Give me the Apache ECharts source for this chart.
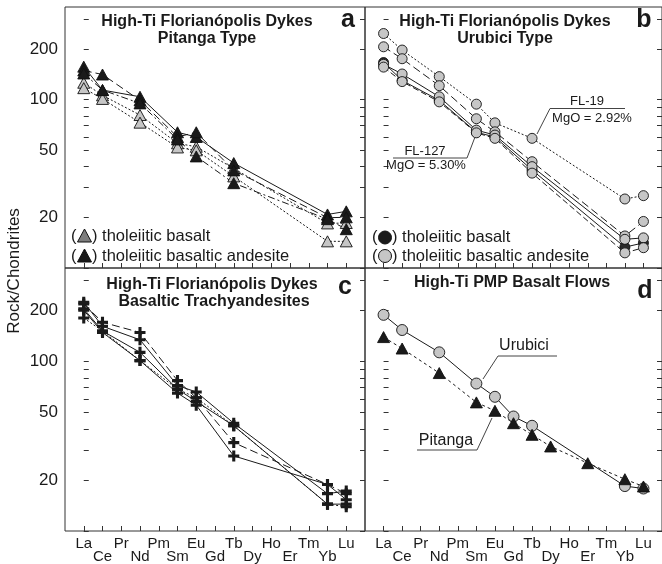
<!DOCTYPE html>
<html>
<head>
<meta charset="UTF-8">
<title>REE patterns</title>
<script src="https://cdn.jsdelivr.net/npm/echarts@6/dist/echarts.min.js"></script>
<style>
  html, body { margin: 0; padding: 0; background: #fff; }
  #chart { width: 662px; height: 564px; }
</style>
</head>
<body>
<div id="chart"></div>
<script>
// element order on the x axis
const elements = ['La', 'Ce', 'Pr', 'Nd', 'Pm', 'Sm', 'Eu', 'Gd', 'Tb', 'Dy', 'Ho', 'Er', 'Tm', 'Yb', 'Lu'];
const yTickValues = [10, 20, 30, 40, 50, 60, 70, 80, 90, 100, 200, 300];
const yLabelValues = [20, 50, 100, 200];

// a: Pitanga type dykes (rock/chondrite)
const pitBlack1 = [157, 114, null, 104, null, 64, 60, null, 42, null, null, null, null, 20.8, 21.7];
const pitBlack2 = [149, 141, null, 99, null, 60, 64, null, 38, null, null, null, null, 19.9, 20.0];
const pitBlack3 = [143, 114, null, 95, null, 58, 46, null, 31.9, null, null, null, null, 19.5, 17.0];
const pitGray1 = [126, 106, null, 81, null, 55, 52.5, null, 39, null, null, null, null, 18.4, 18.5];
const pitGray2 = [117, 101, null, 73, null, 52, 50, null, 35, null, null, null, null, 14.4, 14.4];

// b: Urubici type dykes
const uruFL19 = [247, 197, null, 137, null, 94, 72.8, null, 58.9, null, null, null, null, 25.7, 26.9];
const uruGray1 = [206, 175, null, 121, null, 77, 64.4, null, 42.8, null, null, null, null, 15.5, 18.9];
const uruGray2 = [162, 142, null, 104, null, 65.9, 61.6, null, 40, null, null, null, null, 14.8, 15.1];
const uruBlack = [166, 130, null, 99, null, 64, 60, null, 38.2, null, null, null, null, 13.3, 14.1];
const uruGray3 = [156, 128, null, 97, null, 63.5, 58.9, null, 36.6, null, null, null, null, 12.3, 13.2];

// c: basaltic trachyandesites
const btaA = [218, 170, null, 148, null, 77, 61, null, 33.2, null, null, null, null, 18.8, 16.6];
const btaB = [223, 161, null, 134, null, 72, 66, null, 43.2, null, null, null, null, 16.6, 17.2];
const btaC = [204, 151, null, 113, null, 68.6, 58, null, 41.7, null, null, null, null, 14.4, 14.4];
const btaD = [200, 148, null, 101, null, 65, 55.2, null, 27.7, null, null, null, null, 18.8, 15.3];
const btaE = [180, 151, null, 101, null, 68.6, 61, null, 41.7, null, null, null, null, 14.4, 13.9];

// d: PMP basalt flows
const pmpUrubici = [188, 153, null, 113, null, 74, 61.8, 47.3, 41.7, null, null, null, null, 18.4, 17.8];
const pmpPitanga = [139, 119, null, 85.3, null, 57.3, 51.1, 43.2, 36.9, 31.5, null, 25.1, null, 20.2, 18.3];

const FONT = 'Liberation Sans, Arial, sans-serif';
const INK = '#1a1a1a';
const LIGHT = '#c6c6c6';
const PLUS = 'path://M3.6,0H6.4V3.6H10V6.4H6.4V10H3.6V6.4H0V3.6H3.6Z';

const DOT = [2, 2];
const DASH = [8, 4];
const DASHDOT = [7, 3, 2, 3];

const panels = [
  { grid: 0, symbol: 'triangle', size: [12, 11], samples: [
    { d: pitGray1, fill: LIGHT, line: DOT },
    { d: pitGray2, fill: LIGHT, line: DOT },
    { d: pitBlack1, fill: INK, line: 'solid' },
    { d: pitBlack2, fill: INK, line: DASH },
    { d: pitBlack3, fill: INK, line: DASHDOT }
  ]},
  { grid: 1, symbol: 'circle', size: 10, samples: [
    { d: uruFL19, fill: LIGHT, line: DOT },
    { d: uruGray1, fill: LIGHT, line: DASH },
    { d: uruBlack, fill: '#2a2a2a', line: 'solid' },
    { d: uruGray2, fill: LIGHT, line: 'solid' },
    { d: uruGray3, fill: LIGHT, line: [6, 3] }
  ]},
  { grid: 2, symbol: PLUS, size: 11, samples: [
    { d: btaA, fill: INK, line: DASH },
    { d: btaB, fill: INK, line: 'solid' },
    { d: btaC, fill: INK, line: 'solid' },
    { d: btaD, fill: INK, line: 'solid' },
    { d: btaE, fill: INK, line: DOT }
  ]},
  { grid: 3, symbol: null, samples: [
    { d: pmpUrubici, fill: LIGHT, line: 'solid', symbol: 'circle', size: 11 },
    { d: pmpPitanga, fill: INK, line: [3, 3], symbol: 'triangle', size: [12, 11] }
  ]}
];

function pairs(arr) {
  return arr.map((v, i) => v == null ? null : [i, v]).filter(p => p);
}

const grids = [
  { left: 65, top: 7, width: 300, height: 261 },
  { left: 365, top: 7, width: 300, height: 261 },
  { left: 65, top: 268, width: 300, height: 264 },
  { left: 365, top: 268, width: 300, height: 264 }
].map(g => Object.assign(g, { show: true, borderColor: '#333', borderWidth: 1, backgroundColor: 'transparent' }));

const xIdx = elements.map((e, i) => i);
const xAxes = grids.map((g, i) => ({
  type: 'value', gridIndex: i, min: -1, max: 15,
  axisLine: { show: false }, splitLine: { show: false },
  axisTick: { show: true, inside: true, length: 5, customValues: xIdx, lineStyle: { color: '#333' } },
  axisLabel: {
    show: i >= 2, customValues: xIdx, margin: 6,
    color: INK, fontFamily: FONT, fontSize: 15, lineHeight: 13,
    formatter: v => (v % 2 === 1 ? '\n' : '') + (elements[v] || '')
  }
}));

const yAxes = [];
grids.forEach((g, i) => {
  ['left', 'right'].forEach(pos => {
    yAxes.push({
      type: 'log', logBase: 10, gridIndex: i, position: pos, min: 10, max: 355,
      axisLine: { show: false }, splitLine: { show: false }, minorTick: { show: false },
      axisTick: { show: true, inside: true, length: 5, customValues: yTickValues, lineStyle: { color: '#333' } },
      axisLabel: {
        show: pos === 'left' && i % 2 === 0, customValues: yLabelValues, margin: 7,
        color: INK, fontFamily: FONT, fontSize: 17
      }
    });
  });
});

const series = [];
panels.forEach(p => {
  p.samples.forEach(s => {
    const data = pairs(s.d);
    series.push({
      type: 'line', xAxisIndex: p.grid, yAxisIndex: p.grid * 2, data: data,
      symbol: 'none', z: 2, silent: true,
      lineStyle: { color: INK, width: 1, type: s.line }
    });
    series.push({
      type: 'scatter', xAxisIndex: p.grid, yAxisIndex: p.grid * 2, data: data,
      symbol: s.symbol || p.symbol, symbolSize: s.size || p.size, z: 3,
      itemStyle: {
        color: s.fill,
        borderColor: p.grid === 2 ? INK : '#111',
        borderWidth: p.grid === 2 ? 0 : 0.9,
        opacity: 1
      }
    });
  });
});

function txt(x, y, text, size, opts) {
  return Object.assign({
    type: 'text', x: x, y: y, z: 10,
    style: Object.assign({
      text: text, fill: INK, font: (opts && opts.bold ? 'bold ' : '') + size + 'px ' + FONT,
      textAlign: 'center', textVerticalAlign: 'middle'
    }, opts && opts.style)
  }, opts && opts.el);
}
function leader(points) {
  return { type: 'polyline', z: 10, shape: { points: points }, style: { stroke: '#444', lineWidth: 1, fill: null } };
}

const graphics = [
  // titles and panel letters
  txt(207, 22, 'High-Ti Florianópolis Dykes', 16, { bold: true }),
  txt(207, 39, 'Pitanga Type', 16, { bold: true }),
  txt(505, 22, 'High-Ti Florianópolis Dykes', 16, { bold: true }),
  txt(505, 39, 'Urubici Type', 16, { bold: true }),
  txt(212, 285, 'High-Ti Florianópolis Dykes', 16, { bold: true }),
  txt(214, 302, 'Basaltic Trachyandesites', 16, { bold: true }),
  txt(512, 283, 'High-Ti PMP Basalt Flows', 16, { bold: true }),
  txt(348, 20, 'a', 25, { bold: true }),
  txt(644, 20, 'b', 25, { bold: true }),
  txt(345, 287, 'c', 25, { bold: true }),
  txt(645, 291, 'd', 25, { bold: true }),
  // y axis name
  txt(14, 271, 'Rock/Chondrites', 17, { el: { rotation: Math.PI / 2 } }),
  // legend a
  txt(71, 236, '(', 16.5, { style: { textAlign: 'left' } }),
  { type: 'polygon', z: 10, shape: { points: [[84.5, 229], [91.5, 242], [77.5, 242]] }, style: { fill: '#7d7d7d', stroke: '#111', lineWidth: 1 } },
  txt(92, 236, ') tholeiitic basalt', 16.5, { style: { textAlign: 'left' } }),
  txt(71, 256, '(', 16.5, { style: { textAlign: 'left' } }),
  { type: 'polygon', z: 10, shape: { points: [[84.5, 249], [91.5, 262], [77.5, 262]] }, style: { fill: INK, stroke: '#111', lineWidth: 1 } },
  txt(92, 256, ') tholeiitic basaltic andesite', 16.5, { style: { textAlign: 'left' } }),
  // legend b
  txt(372, 237, '(', 16.5, { style: { textAlign: 'left' } }),
  { type: 'circle', z: 10, shape: { cx: 385, cy: 237.5, r: 6.5 }, style: { fill: INK, stroke: '#111', lineWidth: 1 } },
  txt(392, 237, ') tholeiitic basalt', 16.5, { style: { textAlign: 'left' } }),
  txt(372, 256, '(', 16.5, { style: { textAlign: 'left' } }),
  { type: 'circle', z: 10, shape: { cx: 385, cy: 256, r: 6.5 }, style: { fill: LIGHT, stroke: '#111', lineWidth: 1 } },
  txt(392, 256, ') tholeiitic basaltic andesite', 16.5, { style: { textAlign: 'left' } }),
  // annotations b
  txt(587, 101.5, 'FL-19', 13),
  leader([[625, 108.5], [550, 108.5], [537, 134]]),
  txt(592, 118.5, 'MgO = 2.92%', 13),
  txt(425, 151, 'FL-127', 13),
  leader([[393, 158], [467, 158], [475, 137]]),
  txt(426, 165.5, 'MgO = 5.30%', 13),
  // annotations d
  txt(524, 346, 'Urubici', 16),
  leader([[557, 356], [498, 356], [483, 379]]),
  txt(446, 441, 'Pitanga', 16),
  leader([[417, 450], [477, 450], [492, 418]])
];

const chart = echarts.init(document.getElementById('chart'), null, { renderer: 'canvas' });
chart.setOption({
  animation: false,
  backgroundColor: '#fff',
  grid: grids,
  xAxis: xAxes,
  yAxis: yAxes,
  series: series,
  graphic: graphics
});
</script>
</body>
</html>
